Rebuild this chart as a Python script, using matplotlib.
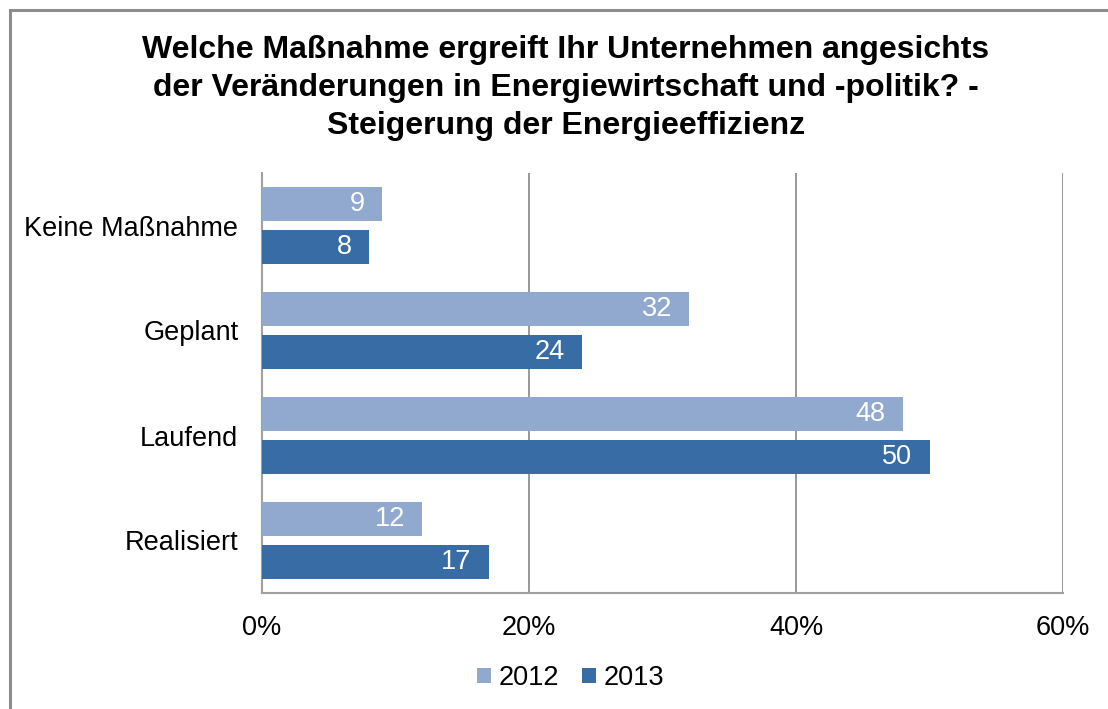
import matplotlib
matplotlib.use("Agg")
import matplotlib.pyplot as plt
from matplotlib.patches import Rectangle
import numpy as np

plt.rcParams['font.family'] = ['Liberation Sans', 'DejaVu Sans']

categories = ["Keine Maßnahme", "Geplant", "Laufend", "Realisiert"]
values_2012 = [9, 32, 48, 12]
values_2013 = [8, 24, 50, 17]
series_labels = ["2012", "2013"]
xticks = [0, 20, 40, 60]
xtick_labels = ["0%", "20%", "40%", "60%"]
title = ("Welche Maßnahme ergreift Ihr Unternehmen angesichts\n"
         "der Veränderungen in Energiewirtschaft und -politik? -\n"
         "Steigerung der Energieeffizienz")

c2012 = "#91A8CF"
c2013 = "#386CA5"

fig = plt.figure(figsize=(11.08, 7.09), dpi=100)
# outer frame
fig.patches.append(Rectangle((10/1108, -0.1), 1.2, (709-10)/709 + 0.1,
                             transform=fig.transFigure, fill=False,
                             edgecolor="#8C8C8C", linewidth=2.2, zorder=0))

ax = fig.add_axes([262/1108, 1-593/709, (1063-262)/1108, (593-173)/709])
y = np.arange(len(categories))
h = 34/105
off = 21.5/105
b1 = ax.barh(y - off, values_2012, height=h, color=c2012, label=series_labels[0], zorder=3)
b2 = ax.barh(y + off, values_2013, height=h, color=c2013, label=series_labels[1], zorder=3)

for bars, vals in ((b1, values_2012), (b2, values_2013)):
    for rect, v in zip(bars, vals):
        ax.text(rect.get_width() - 1.3, rect.get_y() + rect.get_height()/2, str(v),
                ha="right", va="center", color="white", fontsize=19.5, zorder=4)

ax.set_xlim(0, 60)
ax.set_ylim(3.5, -0.5)
ax.set_xticks(xticks)
ax.set_xticklabels(xtick_labels, fontsize=19.5)
ax.set_yticks(y)
ax.set_yticklabels(categories, fontsize=19.5)
ax.tick_params(axis="x", length=0, pad=16)
ax.tick_params(axis="y", length=0, pad=17)
ax.grid(axis="x", color="#868686", linewidth=1.2, zorder=1)
for s in ["top", "right"]:
    ax.spines[s].set_visible(False)
for s in ["left", "bottom"]:
    ax.spines[s].set_color("#A0A0A0")
    ax.spines[s].set_linewidth(1.5)

fig.text(566/1108, 1-88/709, title, ha="center", va="center",
         fontsize=23, fontweight="bold", linespacing=1.36)

fig.legend(handles=[b1, b2], labels=series_labels, loc="center",
           bbox_to_anchor=(571/1108, 1-678/709), ncol=2, frameon=False,
           fontsize=19.5, handlelength=0.5, handleheight=0.5, handletextpad=0.3,
           columnspacing=0.85)

fig.savefig("out.png", dpi=100)
